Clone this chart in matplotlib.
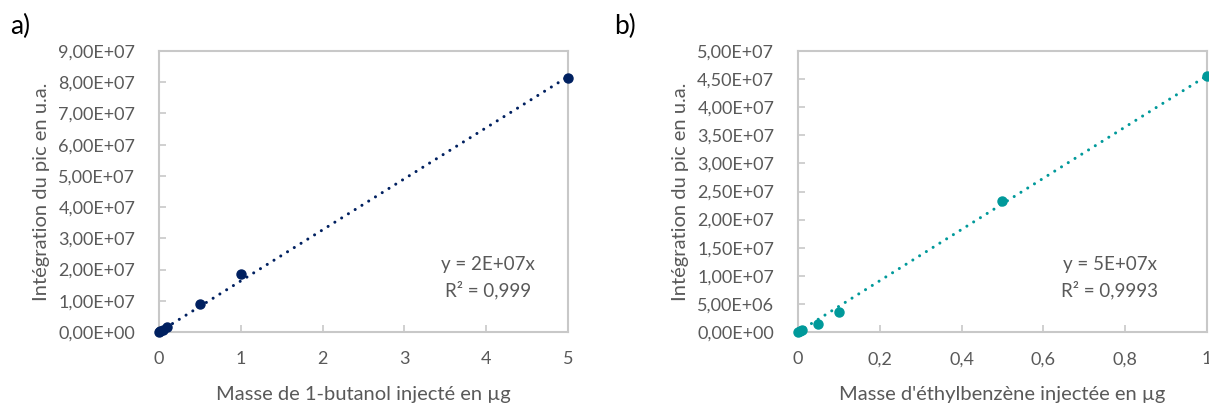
import matplotlib
matplotlib.use('Agg')
import matplotlib.pyplot as plt
import numpy as np

plt.rcParams['font.family'] = ['Lato', 'DejaVu Sans']

# a) 1-butanol
mass_butanol = [0, 0.01, 0.05, 0.1, 0.5, 1, 5]
area_butanol = [0, 2.0e5, 8.0e5, 1.5e6, 8.9e6, 1.85e7, 8.13e7]
# b) ethylbenzene
mass_ethyl = [0, 0.005, 0.01, 0.05, 0.1, 0.5, 1]
area_ethyl = [0, 1.5e5, 3.0e5, 1.36e6, 3.6e6, 2.33e7, 4.55e7]

eq_a = ['y = 2E+07x', 'R² = 0,999']
eq_b = ['y = 5E+07x', 'R² = 0,9993']

grey_txt = '#595959'
grey_ax = '#C8C8C8'


def sci_fr(v, pos=None):
    return f'{v:.2E}'.replace('.', ',')


def dec_fr(v, pos=None):
    s = f'{v:g}'
    return s.replace('.', ',')


fig = plt.figure(figsize=(12.09, 4.05), dpi=100)

panels = [
    (0.1315, mass_butanol, area_butanol, '#002060', 5, 9e7, 1e7,
     np.arange(0, 6, 1), 'Masse de 1-butanol injecté en µg', eq_a, 'a)', 0.008, 0.404),
    (0.66, mass_ethyl, area_ethyl, '#00999A', 1, 5e7, 5e6,
     np.arange(0, 1.01, 0.2), "Masse d'éthylbenzène injectée en µg", eq_b, 'b)', 0.508, 0.918),
]

for left, xs, ys, col, xmax, ymax, ystep, xticks, xlabel, eq, tag, tagx, eqx in panels:
    ax = fig.add_axes([left, 0.1802, 0.3383, 0.6938])
    xs = np.array(xs)
    ys = np.array(ys)
    # linear trend line through origin
    slope = np.sum(xs * ys) / np.sum(xs * xs)
    xl = np.array([0, xmax])
    ax.plot(xl, slope * xl, color=col, lw=2.2, dashes=(0.01, 2.6),
            dash_capstyle='round', clip_on=False)
    ax.plot(xs, ys, 'o', color=col, ms=6.5, clip_on=False, zorder=3)

    ax.set_xlim(0, xmax)
    ax.set_ylim(0, ymax)
    ax.set_xticks(xticks)
    ax.set_yticks(np.arange(0, ymax + ystep / 2, ystep))
    ax.xaxis.set_major_formatter(dec_fr)
    ax.yaxis.set_major_formatter(sci_fr)
    for s in ax.spines.values():
        s.set_color(grey_ax)
        s.set_linewidth(1.5)
    ax.tick_params(direction='in', length=5, width=1.2, color=grey_ax,
                   labelcolor=grey_txt, labelsize=13)
    ax.tick_params(axis='y', pad=17)
    ax.tick_params(axis='x', pad=14)
    ax.set_xlabel(xlabel, fontsize=14.5, color=grey_txt, labelpad=13)
    ax.set_ylabel('Intégration du pic en u.a.', fontsize=14.5, color=grey_txt, labelpad=6)

    fig.text(eqx, 0.347, eq[0], fontsize=13.5, color=grey_txt, ha='center', va='center')
    fig.text(eqx, 0.285, eq[1], fontsize=13.5, color=grey_txt, ha='center', va='center')
    fig.text(tagx, 0.935, tag, fontsize=19, color='black', ha='left', va='center')

plt.savefig('out.png', dpi=100)
